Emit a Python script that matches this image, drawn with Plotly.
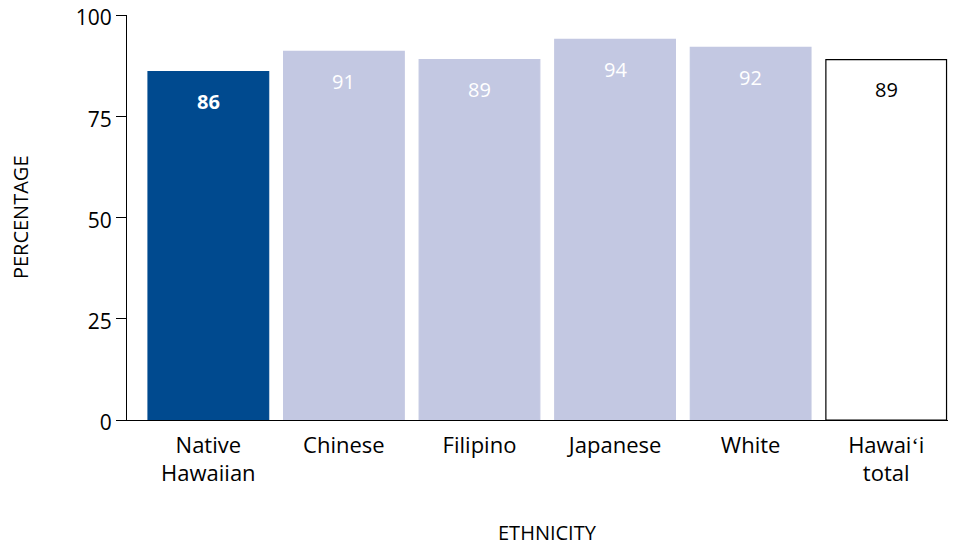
import plotly.graph_objects as go

categories = ["Native<br>Hawaiian", "Chinese", "Filipino", "Japanese", "White", "Hawaiʻi<br>total"]
values = [86, 91, 89, 94, 92, 89]
fill_colors = ["#004A8F", "#C3C8E2", "#C3C8E2", "#C3C8E2", "#C3C8E2", "#FFFFFF"]
line_colors = ["#004A8F", "#C3C8E2", "#C3C8E2", "#C3C8E2", "#C3C8E2", "#000000"]
label_colors = ["#FFFFFF", "#FFFFFF", "#FFFFFF", "#FFFFFF", "#FFFFFF", "#000000"]
y_ticks = [0, 25, 50, 75, 100]

FONT = "Open Sans"

fig = go.Figure()
fig.add_trace(go.Bar(
    x=list(range(len(categories))),
    y=values,
    marker=dict(color=fill_colors, line=dict(color=line_colors, width=1.2)),
    width=0.89,
    hoverinfo="skip",
))

for i, (v, c) in enumerate(zip(values, label_colors)):
    fig.add_annotation(
        x=i, y=v, text=("<b>%d</b>" % v) if i == 0 else str(v),
        showarrow=False, yshift=-30, yanchor="middle",
        font=dict(family=FONT, size=20, color=c),
    )

fig.add_annotation(
    xref="paper", yref="paper", x=-0.1294, y=0.501, text="PERCENTAGE",
    textangle=-90, showarrow=False, xanchor="center", yanchor="middle",
    font=dict(family=FONT, size=20, color="#000000"),
)
fig.add_annotation(
    xref="paper", yref="paper", x=0.509, y=-0.279, text="ETHNICITY",
    showarrow=False, xanchor="center", yanchor="middle",
    font=dict(family=FONT, size=20, color="#000000"),
)

fig.update_layout(
    width=956, height=548,
    margin=dict(l=119, r=10, t=7, b=136),
    plot_bgcolor="white", paper_bgcolor="white",
    showlegend=False,
    font=dict(family=FONT, color="#000000"),
    xaxis=dict(
        range=[-0.6, 5.5], automargin=False,
        tickmode="array", tickvals=list(range(len(categories))), ticktext=categories,
        showline=True, linecolor="#000000", linewidth=1.2,
        ticks="", showgrid=False, zeroline=False,
        tickfont=dict(family=FONT, size=22), ticklabeloverflow="allow",
        ticklabelstandoff=5,
    ),
    yaxis=dict(
        range=[0, 100], automargin=False,
        tickmode="array", tickvals=y_ticks,
        showline=True, linecolor="#000000", linewidth=1.2,
        ticks="outside", ticklen=10, tickcolor="#000000", tickwidth=1.2,
        showgrid=False, zeroline=False,
        tickfont=dict(family=FONT, size=21), ticklabeloverflow="allow",
        ticklabelshift=3,
    ),
)

fig.write_html("out.html")
